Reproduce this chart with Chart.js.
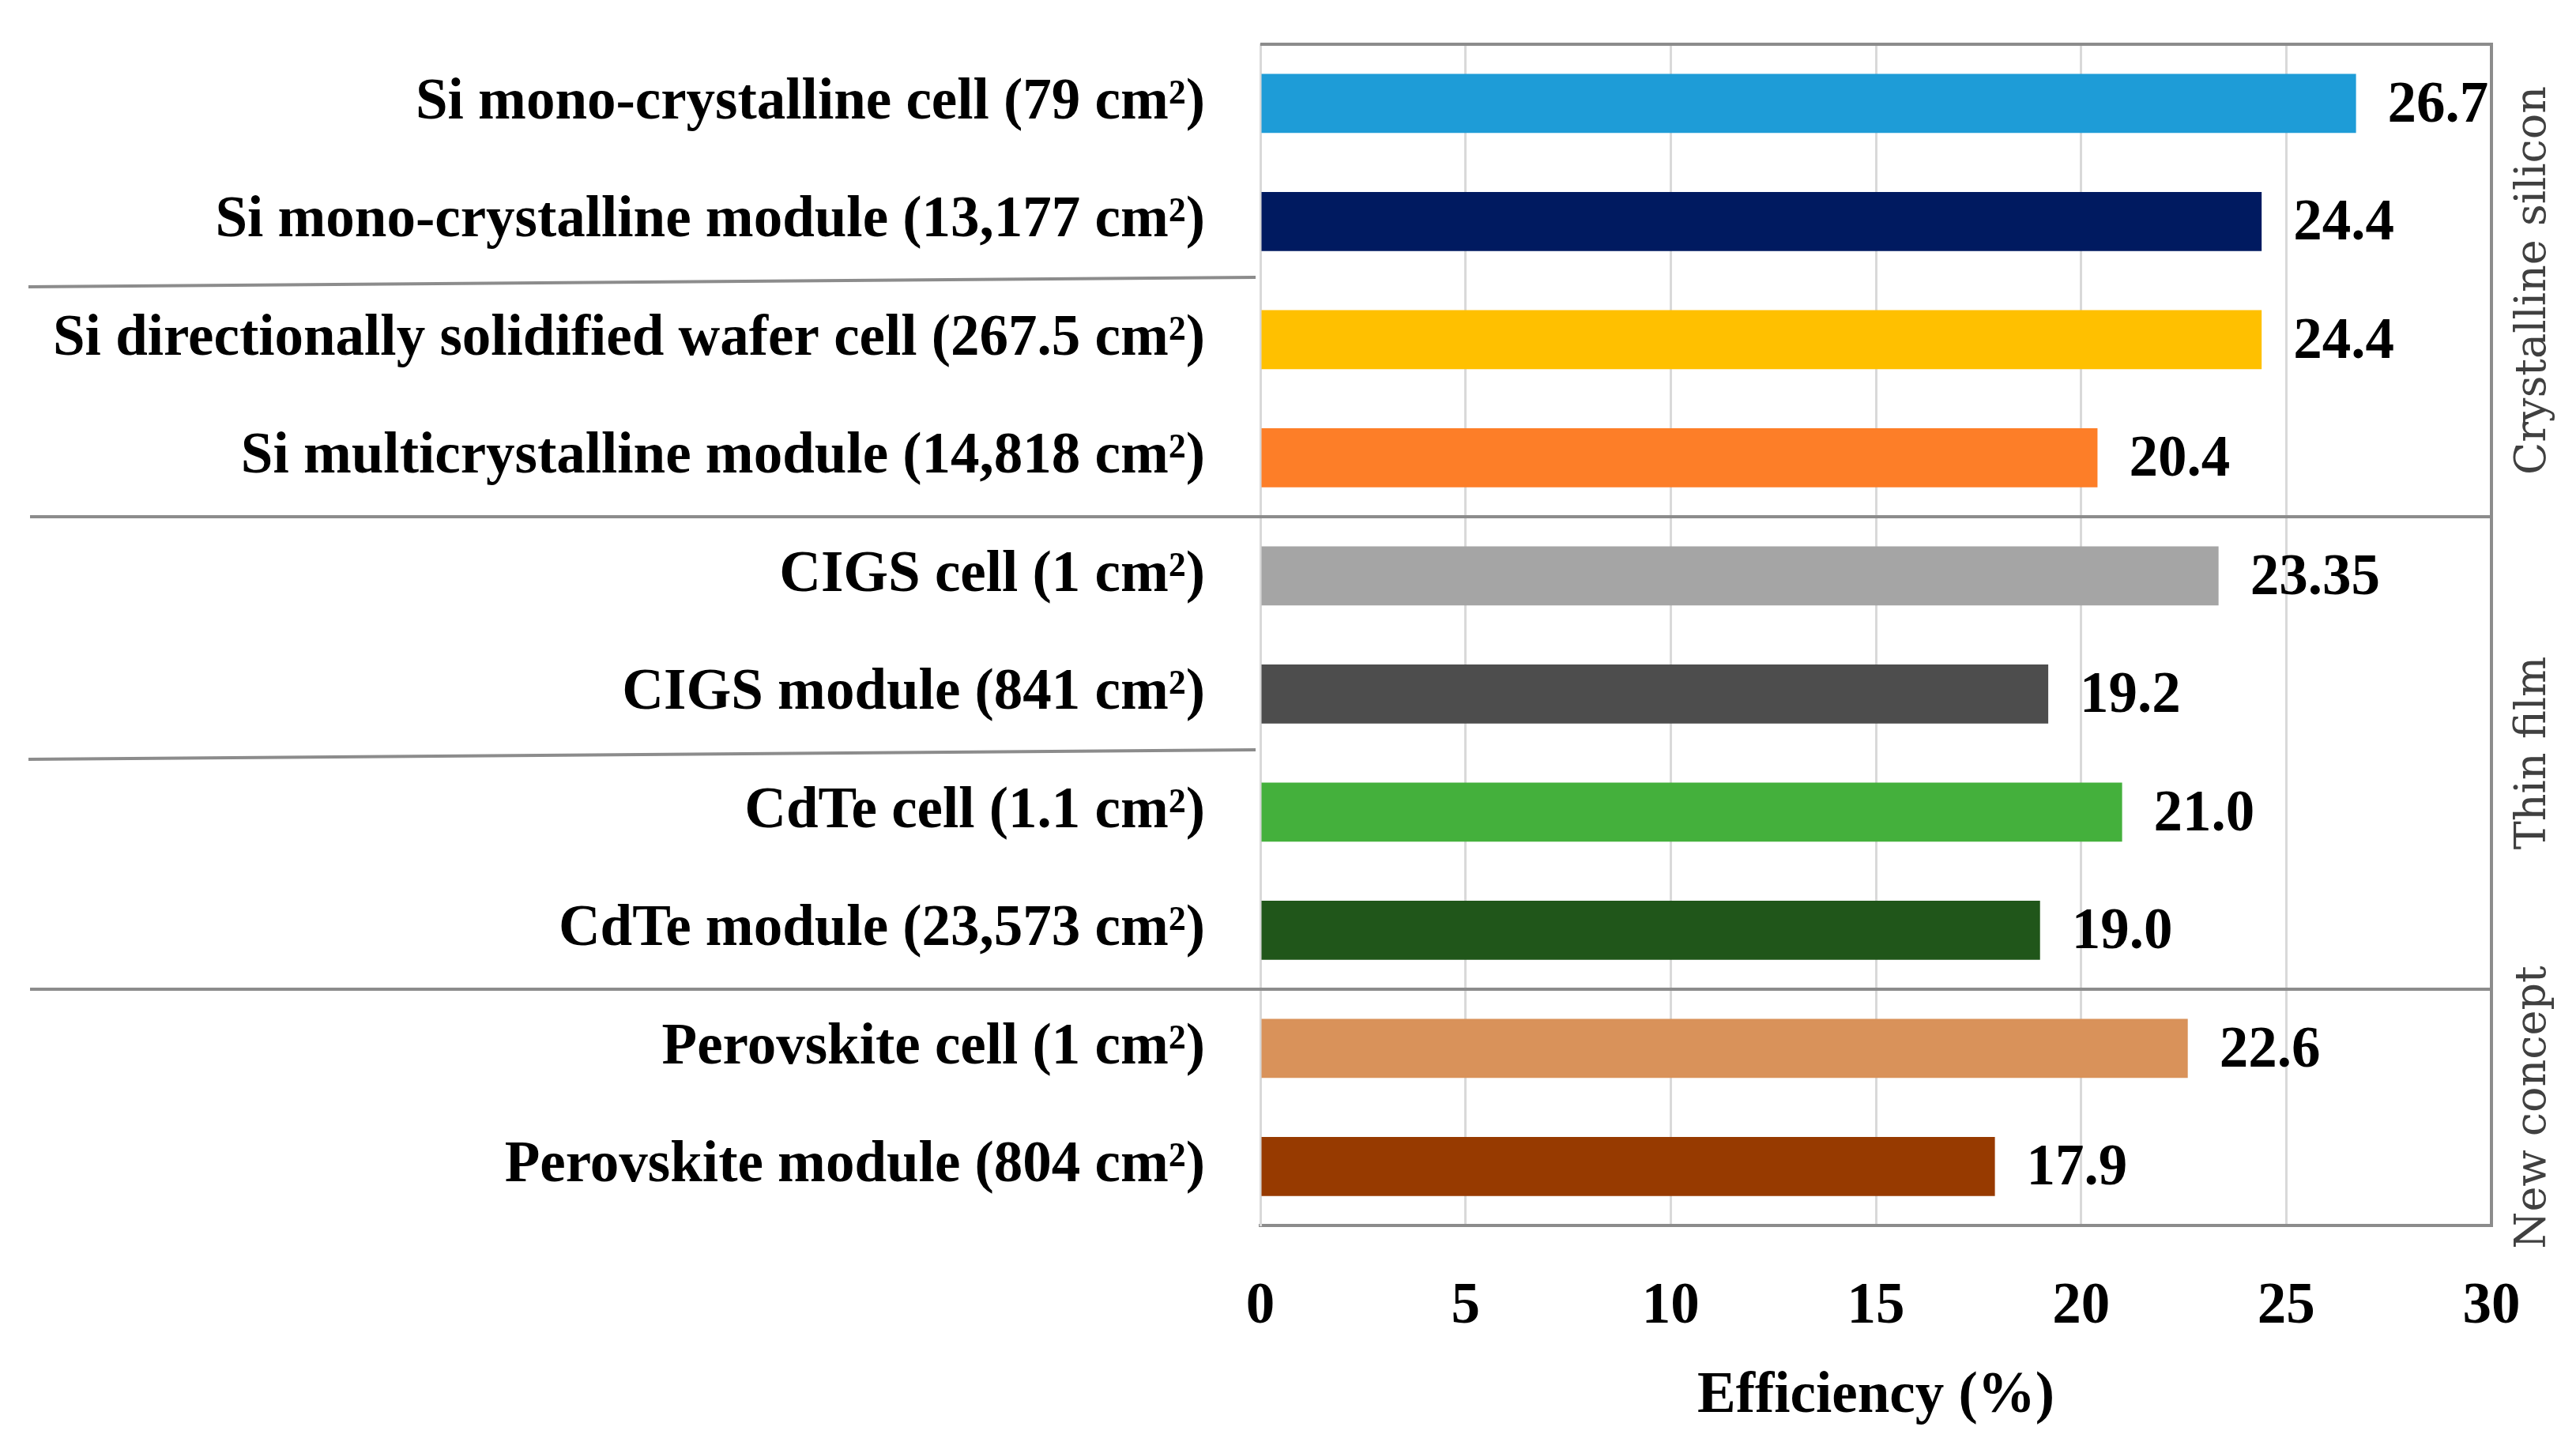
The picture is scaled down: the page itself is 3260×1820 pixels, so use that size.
<!DOCTYPE html>
<html>
<head>
<meta charset="utf-8">
<script src="https://cdn.jsdelivr.net/npm/chart.js@4.4.1/dist/chart.umd.min.js"></script>
<style>
  html, body { margin: 0; padding: 0; background: #fff; }
  #wrap { width: 3260px; height: 1820px; position: relative; }
</style>
</head>
<body>
<div id="wrap"><canvas id="chart"></canvas></div>
<script>
const categories = [
  'Si mono-crystalline cell (79 cm²)',
  'Si mono-crystalline module (13,177 cm²)',
  'Si directionally solidified wafer cell (267.5 cm²)',
  'Si multicrystalline module (14,818 cm²)',
  'CIGS cell (1 cm²)',
  'CIGS module (841 cm²)',
  'CdTe cell (1.1 cm²)',
  'CdTe module (23,573 cm²)',
  'Perovskite cell (1 cm²)',
  'Perovskite module (804 cm²)'
];
const efficiency = [26.7, 24.4, 24.4, 20.4, 23.35, 19.2, 21.0, 19.0, 22.6, 17.9];
const valueLabels = ['26.7', '24.4', '24.4', '20.4', '23.35', '19.2', '21.0', '19.0', '22.6', '17.9'];
const barColors = ['#1e9cd7', '#001a60', '#ffc000', '#fd7e28', '#a5a5a5', '#4d4d4d', '#44b03c', '#20561a', '#d9925a', '#973a00'];
const groupNames = ['Crystalline silicon', 'Thin film', 'New concept'];
const groupFirst = [0, 4, 8];
const groupLast = [3, 7, 9];
const xTicks = [0, 5, 10, 15, 20, 25, 30];

const SERIF = '"Liberation Serif", "DejaVu Serif", serif';

// value labels, separators, frame and group names
const decorations = {
  id: 'decorations',
  afterDraw(chart) {
    const ctx = chart.ctx;
    const area = chart.chartArea;
    const y = chart.scales.y;
    const meta = chart.getDatasetMeta(0);

    ctx.save();
    ctx.font = 'bold 73px ' + SERIF;
    ctx.fillStyle = '#000';
    ctx.textAlign = 'left';
    ctx.textBaseline = 'middle';
    meta.data.forEach(function (bar, i) {
      ctx.fillText(valueLabels[i], bar.x + 40, bar.y + 4);
    });

    ctx.strokeStyle = '#8c8c8c';
    ctx.lineWidth = 4;
    // frame top and right
    ctx.beginPath();
    ctx.moveTo(area.left, area.top);
    ctx.lineTo(area.right, area.top);
    ctx.lineTo(area.right, area.bottom);
    ctx.stroke();

    // full separators between groups
    for (let g = 1; g < groupFirst.length; g++) {
      const py = y.getPixelForValue(groupFirst[g] - 0.5);
      ctx.beginPath();
      ctx.moveTo(38, py);
      ctx.lineTo(area.right, py);
      ctx.stroke();
    }
    // short separators inside groups (label area only)
    [1.5, 5.5].forEach(function (v) {
      const py = y.getPixelForValue(v);
      ctx.beginPath();
      ctx.moveTo(36, py + 8);
      ctx.lineTo(area.left - 6, py - 4);
      ctx.stroke();
    });

    // group names, rotated
    ctx.font = '54px "DejaVu Serif", serif';
    ctx.fillStyle = '#404040';
    ctx.textAlign = 'center';
    ctx.textBaseline = 'middle';
    groupNames.forEach(function (name, g) {
      const top = y.getPixelForValue(groupFirst[g] - 0.5);
      const bottom = y.getPixelForValue(groupLast[g] + 0.5);
      ctx.save();
      ctx.translate(area.right + 54, (top + bottom) / 2);
      ctx.rotate(-Math.PI / 2);
      ctx.fillText(name, 0, 0);
      ctx.restore();
    });
    ctx.restore();
  }
};

new Chart(document.getElementById('chart'), {
  type: 'bar',
  data: {
    labels: categories,
    datasets: [{
      data: efficiency,
      backgroundColor: barColors,
      borderWidth: 0,
      categoryPercentage: 1,
      barPercentage: 0.5
    }]
  },
  options: {
    indexAxis: 'y',
    responsive: true,
    maintainAspectRatio: false,
    animation: false,
    devicePixelRatio: 1,
    layout: { padding: { left: 0, right: 107, top: 56, bottom: 0 } },
    plugins: {
      legend: { display: false },
      tooltip: { enabled: false }
    },
    scales: {
      x: {
        min: 0,
        max: 30,
        afterBuildTicks: function (scale) {
          scale.ticks = xTicks.map(function (v) { return { value: v }; });
        },
        afterFit: function (scale) {
          scale.height = 269;
          scale.paddingLeft = 0;
          scale.paddingRight = 0;
        },
        grid: { color: '#d9d9d9', lineWidth: 3, drawTicks: false },
        border: { color: '#8c8c8c', width: 4 },
        ticks: {
          color: '#000',
          padding: 60,
          font: { family: SERIF, size: 73, weight: 'bold' }
        },
        title: {
          display: true,
          text: 'Efficiency (%)',
          color: '#000',
          padding: { top: 0, bottom: 8 },
          font: { family: SERIF, size: 73, weight: 'bold' }
        }
      },
      y: {
        afterFit: function (scale) {
          scale.width = 1595;
          scale.paddingTop = 0;
          scale.paddingBottom = 0;
        },
        grid: { display: false, drawTicks: false },
        border: { color: '#d9d9d9', width: 3 },
        ticks: {
          color: '#000',
          padding: 70,
          font: { family: SERIF, size: 73, weight: 'bold' }
        }
      }
    }
  },
  plugins: [decorations]
});
</script>
</body>
</html>
